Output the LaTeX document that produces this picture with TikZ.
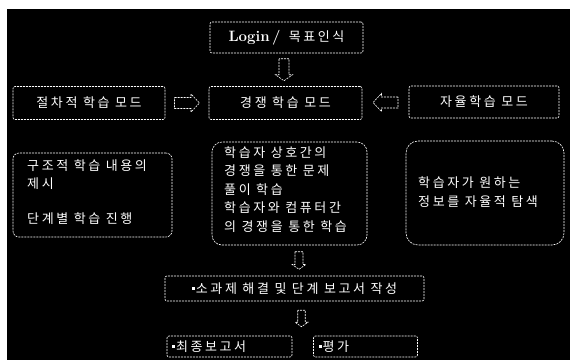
\documentclass[tikz,border=0pt]{standalone}
\usepackage{fontspec}
\newfontfamily\kr[LetterSpace=20]{Noto Sans CJK KR}
\usetikzlibrary{calc}
\newcommand{\sqb}{\rule[3.5pt]{3pt}{3pt}\hspace{1pt}}
\begin{document}
\begin{tikzpicture}[x=1pt,y=-1pt,
  dsh/.style={draw=white, line width=0.6pt, dash pattern=on 2pt off 1pt},
  box/.style={dsh, rounded corners=2pt, text=white,
    font=\kr\fontsize{13}{18.5}\selectfont, inner sep=0pt},
  rbox/.style={box, rounded corners=#1},
  txt/.style={text=white, font=\kr\fontsize{13}{18.5}\selectfont, inner sep=0pt, align=left},
  dnarr/.pic={\draw[dsh] (-5,-11) -- (-5,5) -- (-8.5,5) -- (0,11) -- (8.5,5) -- (5,5) -- (5,-11) -- cycle;},
  rtarr/.pic={\draw[dsh] (-12.5,-5.5) -- (4,-5.5) -- (4,-9) -- (12.5,0) -- (4,9) -- (4,5.5) -- (-12.5,5.5) -- cycle;},
  ltarr/.pic={\draw[dsh] (12.5,-5.5) -- (-4,-5.5) -- (-4,-9) -- (-12.5,0) -- (-4,9) -- (-4,5.5) -- (12.5,5.5) -- cycle;}]
\useasboundingbox (0,0) rectangle (570,360);
\fill[white] (0,0) rectangle (570,360);
\fill[black] (7,9) rectangle (570,360);

\node[box, minimum width=153pt, minimum height=31pt] (login) at (286.5,37.5)
  {\fontsize{15}{17}\selectfont\rmfamily\bfseries Login\,/\, \kr\mdseries\fontsize{13}{15}\selectfont 목표인식};

\node[box, minimum width=152pt, minimum height=33pt] (m1) at (89,103) {절차적 학습 모드};
\node[box, minimum width=153pt, minimum height=33pt] (m2) at (285.5,103) {경쟁 학습 모드};
\node[box, minimum width=150pt, minimum height=32pt] (m3) at (484,102) {자율학습 모드};

\node[rbox=6pt, minimum width=159pt, minimum height=84pt] (c1) at (92.5,195) {};
\node[txt, anchor=north west] (t1) at (27,159) {구조적 학습 내용의\\제시\\[16pt]단계별 학습 진행};

\node[rbox=10pt, minimum width=155pt, minimum height=103pt] (c2) at (289.5,193.5) {};
\node[txt, anchor=north west] (t2) at (224,146) {학습자 상호간의\\경쟁을 통한 문제\\풀이 학습\\학습자와 컴퓨터간\\의 경쟁을 통한 학습};

\node[rbox=12pt, minimum width=158pt, minimum height=104pt] (c3) at (485,193) {};
\node[txt, anchor=west] (t3) at (418,192) {학습자가 원하는\\정보를 자율적 탐색};

\node[box, minimum width=259pt, minimum height=25pt] (r1) at (294.5,288.5)
  {\sqb 소과제 해결 및 단계 보고서 작성};
\node[box, minimum width=125pt, minimum height=21pt, text width=115pt, align=left] (f1) at (229.5,346.5)
  {\sqb 최종보고서};
\node[box, minimum width=104pt, minimum height=21pt, text width=94pt, align=left] (f2) at (365.5,346.5)
  {\sqb 평가};

\coordinate (d1) at ($(login.south)!0.5!(m2.north) + (-2,0)$);
\coordinate (a1) at ($(m1.east)!0.5!(m2.west)$);
\coordinate (a2) at ($(m2.east)!0.5!(m3.west)$);
\coordinate (d2) at ($(c2.south)!0.5!(r1.north) + (7,0)$);
\coordinate (d3) at ($(r1.south)!0.5!(f1.north)$);
\pic at (d1) {dnarr};
\pic at (a1) {rtarr};
\pic at (a2) {ltarr};
\pic[scale=0.8] at (d2) {dnarr};
\pic[scale=0.75] at ($(d3-|r1.center) + (7,0)$) {dnarr};
\end{tikzpicture}
\end{document}
